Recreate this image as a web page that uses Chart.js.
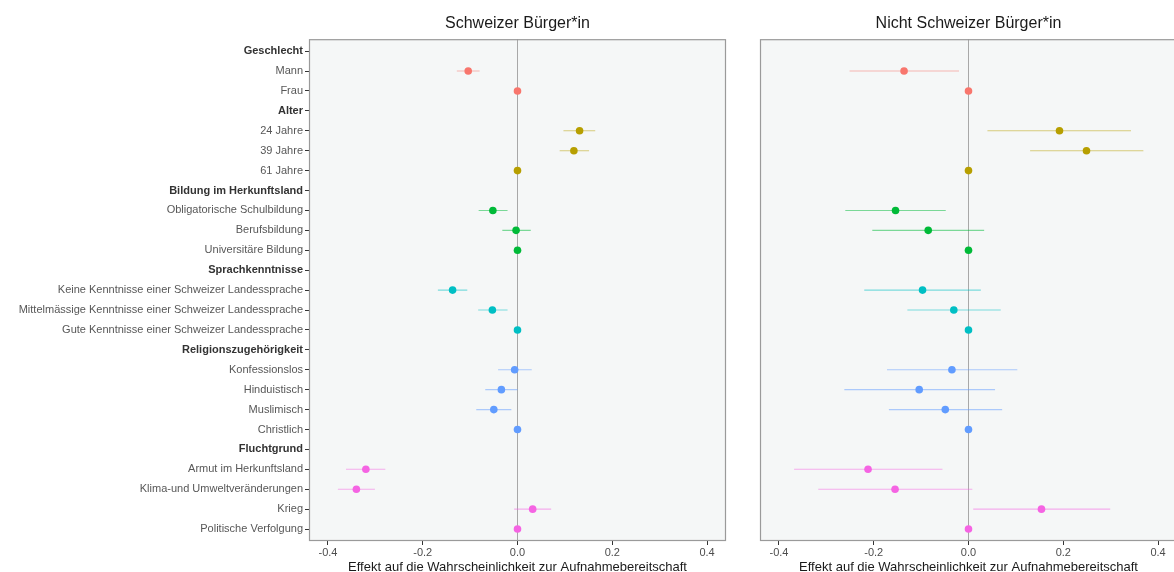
<!DOCTYPE html>
<html><head><meta charset="utf-8">
<script src="https://cdn.jsdelivr.net/npm/chart.js@4.4.1/dist/chart.umd.min.js"></script>
<style>
html,body{margin:0;padding:0;background:#fff;overflow:hidden}
#clip{position:absolute;left:0;top:0;width:1174px;height:572px;overflow:hidden}
#w1{position:absolute;left:0;top:0;width:740px;height:572px}
#w2{position:absolute;left:740px;top:0;width:450px;height:572px}
</style></head><body>
<div id="clip">
<div id="w1"><canvas id="c1"></canvas></div>
<div id="w2"><canvas id="c2"></canvas></div>
</div>
<script>
const categories = ["Geschlecht","Mann","Frau","Alter","24 Jahre","39 Jahre","61 Jahre",
  "Bildung im Herkunftsland","Obligatorische Schulbildung","Berufsbildung","Universitäre Bildung",
  "Sprachkenntnisse","Keine Kenntnisse einer Schweizer Landessprache","Mittelmässige Kenntnisse einer Schweizer Landessprache","Gute Kenntnisse einer Schweizer Landessprache",
  "Religionszugehörigkeit","Konfessionslos","Hinduistisch","Muslimisch","Christlich",
  "Fluchtgrund","Armut im Herkunftsland","Klima-und Umweltveränderungen","Krieg","Politische Verfolgung"];
const headerRows = [0,3,7,11,15,20];
const groupOfRow = [0,0,0,1,1,1,1,2,2,2,2,3,3,3,3,4,4,4,4,4,5,5,5,5,5];
const groupColors = ["#F8766D","#B79F00","#00BA38","#00BFC4","#619CFF","#F564E3"];
const xTicks = [-0.4,-0.2,0,0.2,0.4];
const panelTitles = ["Schweizer Bürger*in","Nicht Schweizer Bürger*in"];
const xTitle = "Effekt auf die Wahrscheinlichkeit zur Aufnahmebereitschaft";

// Schweizer Bürger*in
const swissEst = [null,-0.104,0,null,0.131,0.119,0,null,-0.052,-0.003,0,null,-0.137,-0.053,0,null,-0.006,-0.034,-0.050,0,null,-0.320,-0.340,0.032,0];
const swissLo  = [null,-0.128,null,null,0.097,0.089,null,null,-0.082,-0.032,null,null,-0.168,-0.083,null,null,-0.041,-0.068,-0.087,null,null,-0.362,-0.379,-0.007,null];
const swissHi  = [null,-0.080,null,null,0.164,0.151,null,null,-0.021,0.028,null,null,-0.106,-0.021,null,null,0.030,0.000,-0.013,null,null,-0.279,-0.301,0.071,null];
// Nicht Schweizer Bürger*in
const nonEst = [null,-0.136,0,null,0.192,0.249,0,null,-0.154,-0.085,0,null,-0.097,-0.031,0,null,-0.035,-0.104,-0.049,0,null,-0.212,-0.155,0.154,0];
const nonLo  = [null,-0.251,null,null,0.040,0.130,null,null,-0.260,-0.203,null,null,-0.220,-0.129,null,null,-0.172,-0.262,-0.168,null,null,-0.368,-0.317,0.010,null];
const nonHi  = [null,-0.020,null,null,0.343,0.369,null,null,-0.048,0.033,null,null,0.026,0.068,null,null,0.103,0.056,0.071,null,null,-0.055,0.008,0.299,null];

const FONT = "'Liberation Sans', Arial, Helvetica, sans-serif";
Chart.defaults.font.family = FONT;

function alpha(hex, a){
  const n = parseInt(hex.slice(1),16);
  return `rgba(${(n>>16)&255},${(n>>8)&255},${n&255},${a})`;
}

const panelPlugin = {
  id:'panel',
  beforeDraw(chart){
    const {ctx, chartArea:a} = chart;
    ctx.save();
    ctx.fillStyle = '#f5f7f7';
    ctx.fillRect(a.left, a.top, a.right-a.left, a.bottom-a.top);
    ctx.restore();
  },
  afterDatasetsDraw(chart){
    const {ctx, chartArea:a} = chart;
    ctx.save();
    ctx.strokeStyle = '#9a9a9a';
    ctx.lineWidth = 1.2;
    ctx.strokeRect(a.left+0.5, a.top+0.5, a.right-a.left-1, a.bottom-a.top-1);
    ctx.restore();
  }
};

function makeChart(id, est, lo, hi, title, showY){
  const datasets = [];
  const pts = [], ptCol = [];
  est.forEach((v,i)=>{
    if (v===null) return;
    pts.push({x:v,y:i});
    ptCol.push(groupColors[groupOfRow[i]]);
    if (lo[i]!==null){
      datasets.push({
        data:[{x:lo[i],y:i},{x:hi[i],y:i}],
        showLine:true, borderColor:alpha(groupColors[groupOfRow[i]],0.5),
        borderWidth:1.1, pointRadius:0, pointHoverRadius:0, order:1
      });
    }
  });
  datasets.push({data:pts, pointBackgroundColor:ptCol, pointBorderWidth:0, pointRadius:3.8, pointHoverRadius:3.8, showLine:false, order:0});

  return new Chart(document.getElementById(id), {
    type:'scatter',
    data:{datasets},
    plugins:[panelPlugin],
    options:{
      responsive:true, maintainAspectRatio:false, animation:false, devicePixelRatio:1,
      layout:{padding: showY ? {left:0,right:14,top:0,bottom:0} : {left:20,right:13,top:0,bottom:0}},
      plugins:{
        legend:{display:false}, tooltip:{enabled:false},
        title:{display:true, text:title, fullSize:false, color:'#1a1a1a',
          font:{size:16, weight:'normal', family:FONT}, padding:{top:14,bottom:6}}
      },
      scales:{
        x:{
          type:'linear', position:'bottom', min:-0.44, max:0.44,
          afterBuildTicks: s => { s.ticks = xTicks.map(v=>({value:v})); },
          afterFit: s => { s.height = 31; },
          ticks:{callback: v => Number(v).toFixed(1), color:'#4d4d4d', font:{size:11}, padding:1, autoSkip:false, maxRotation:0},
          grid:{drawOnChartArea:true, color: c => (c.tick && c.tick.value===0) ? '#a8a8a8' : 'rgba(0,0,0,0)',
                lineWidth:1, tickColor:'#333', tickLength:4, drawTicks:true},
          border:{display:false},
          title:{display:true, text:xTitle, color:'#1a1a1a', font:{size:13, lineHeight:1}, padding:{top:-2,bottom:-2}}
        },
        y:{
          type:'linear', display:showY, reverse:true, min:-0.6, max:24.6,
          afterBuildTicks: s => { s.ticks = categories.map((_,i)=>({value:i})); },
          afterFit: s => { s.width = showY ? 309 : 0; },
          ticks:{
            autoSkip:false, padding:2,
            callback: v => categories[v],
            color: c => headerRows.includes(c.tick && c.tick.value) ? '#333333' : '#575757',
            font: c => ({size:11, family:FONT, weight: headerRows.includes(c.tick && c.tick.value) ? 'bold' : 'normal'})
          },
          grid:{drawOnChartArea:false, drawTicks:true, tickLength:4, tickColor:'#333'},
          border:{display:false}
        }
      }
    }
  });
}

makeChart('c1', swissEst, swissLo, swissHi, panelTitles[0], true);
makeChart('c2', nonEst, nonLo, nonHi, panelTitles[1], false);
</script>
</body></html>
